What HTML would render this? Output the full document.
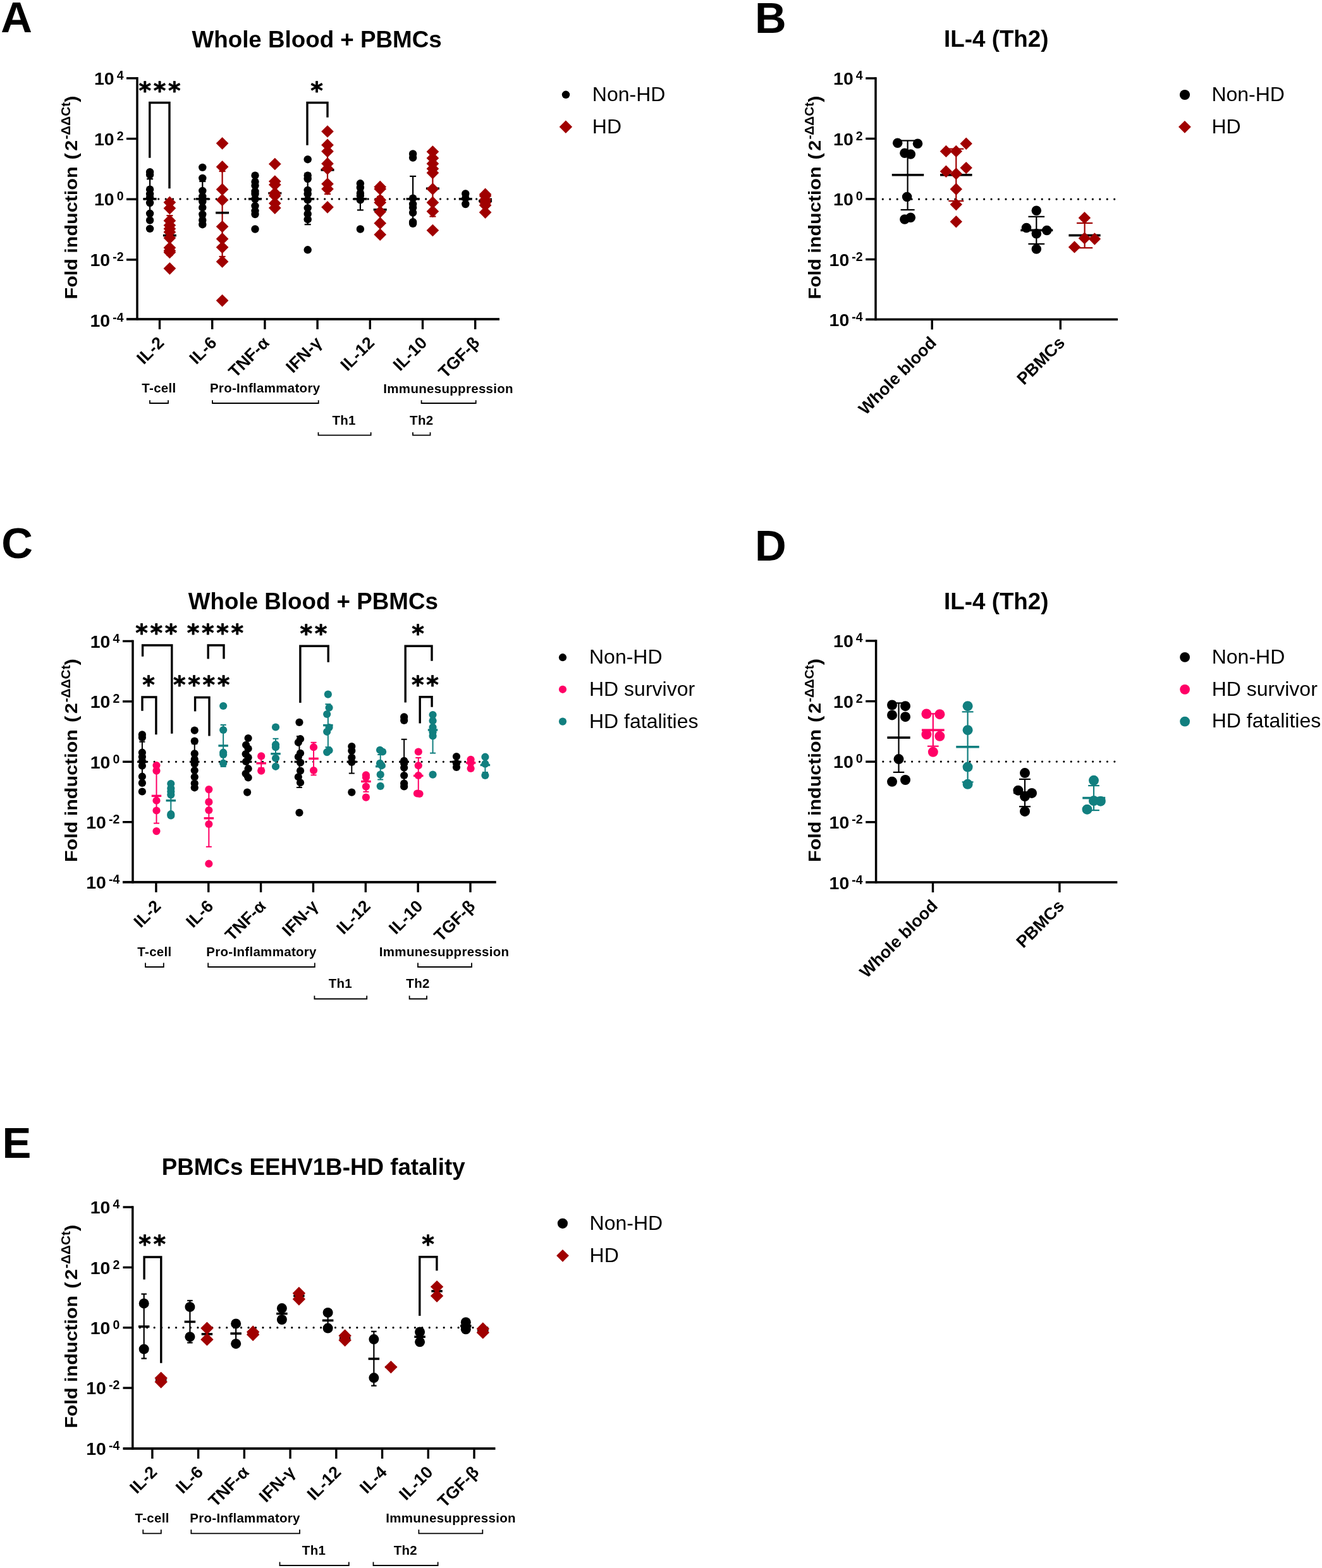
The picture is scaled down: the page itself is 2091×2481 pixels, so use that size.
<!DOCTYPE html>
<html><head><meta charset="utf-8"><title>Figure</title>
<style>html,body{margin:0;padding:0;background:#fff;} svg{display:block;}</style></head>
<body><svg width="2091" height="2481" viewBox="0 0 2091 2481">
<rect width="2091" height="2481" fill="#fff"/>
<text x="1.2" y="51.4" font-family="'Liberation Sans', Arial, sans-serif" font-size="68.8" font-weight="bold" text-anchor="start">A</text>
<text x="501.1" y="74.6" font-family="'Liberation Sans', Arial, sans-serif" font-size="36.75" font-weight="bold" text-anchor="middle">Whole Blood + PBMCs</text>
<line x1="227.9" y1="314.9" x2="776.8" y2="314.9" stroke="#000" stroke-width="3.2" stroke-linecap="round" stroke-dasharray="0 11.43"/>
<rect x="215.25" y="122.05" width="3.5" height="384.85" fill="#000000"/>
<rect x="200" y="122.1" width="17" height="3.4" fill="#000000"/>
<text x="195.5" y="134" font-family="'Liberation Sans', Arial, sans-serif" font-size="28.5" font-weight="bold" text-anchor="end">10<tspan dx="4" dy="-8" font-size="19.5">4</tspan></text>
<rect x="200" y="217.8" width="17" height="3.4" fill="#000000"/>
<text x="195.5" y="229.7" font-family="'Liberation Sans', Arial, sans-serif" font-size="28.5" font-weight="bold" text-anchor="end">10<tspan dx="4" dy="-8" font-size="19.5">2</tspan></text>
<rect x="200" y="313.5" width="17" height="3.4" fill="#000000"/>
<text x="195.5" y="325.4" font-family="'Liberation Sans', Arial, sans-serif" font-size="28.5" font-weight="bold" text-anchor="end">10<tspan dx="4" dy="-8" font-size="19.5">0</tspan></text>
<rect x="200" y="409.2" width="17" height="3.4" fill="#000000"/>
<text x="195.5" y="421.1" font-family="'Liberation Sans', Arial, sans-serif" font-size="28.5" font-weight="bold" text-anchor="end">10<tspan dx="4" dy="-8" font-size="19.5">-2</tspan></text>
<text x="195.5" y="516.8" font-family="'Liberation Sans', Arial, sans-serif" font-size="28.5" font-weight="bold" text-anchor="end">10<tspan dx="4" dy="-8" font-size="19.5">-4</tspan></text>
<rect x="200" y="503.1" width="590" height="3.8" fill="#000000"/>
<rect x="250.8" y="505" width="3.4" height="16" fill="#000000"/>
<rect x="334" y="505" width="3.4" height="16" fill="#000000"/>
<rect x="417.2" y="505" width="3.4" height="16" fill="#000000"/>
<rect x="500.4" y="505" width="3.4" height="16" fill="#000000"/>
<rect x="583.6" y="505" width="3.4" height="16" fill="#000000"/>
<rect x="666.8" y="505" width="3.4" height="16" fill="#000000"/>
<rect x="750" y="505" width="3.4" height="16" fill="#000000"/>
<text transform="translate(261,544) rotate(-45)" font-family="'Liberation Sans', Arial, sans-serif" font-size="26.8" font-weight="bold" text-anchor="end">IL-2</text>
<text transform="translate(344.2,544) rotate(-45)" font-family="'Liberation Sans', Arial, sans-serif" font-size="26.8" font-weight="bold" text-anchor="end">IL-6</text>
<text transform="translate(427.4,544) rotate(-45)" font-family="'Liberation Sans', Arial, sans-serif" font-size="26.8" font-weight="bold" text-anchor="end">TNF-α</text>
<text transform="translate(510.6,544) rotate(-45)" font-family="'Liberation Sans', Arial, sans-serif" font-size="26.8" font-weight="bold" text-anchor="end">IFN-γ</text>
<text transform="translate(593.8,544) rotate(-45)" font-family="'Liberation Sans', Arial, sans-serif" font-size="26.8" font-weight="bold" text-anchor="end">IL-12</text>
<text transform="translate(677,544) rotate(-45)" font-family="'Liberation Sans', Arial, sans-serif" font-size="26.8" font-weight="bold" text-anchor="end">IL-10</text>
<text transform="translate(760.2,544) rotate(-45)" font-family="'Liberation Sans', Arial, sans-serif" font-size="26.8" font-weight="bold" text-anchor="end">TGF-β</text>
<text transform="translate(122.3,473.5) rotate(-90) scale(1.13,1)" font-family="'Liberation Sans', Arial, sans-serif" font-size="27" font-weight="bold">Fold induction <tspan dx="2.2">(</tspan><tspan dx="3.2">2</tspan></text>
<text transform="translate(110.9,220.6) rotate(-90)" font-family="'Liberation Sans', Arial, sans-serif" font-size="20.8" font-weight="bold">-ΔΔCt</text>
<text transform="translate(122.3,161.8) rotate(-90) scale(1.13,1)" font-family="'Liberation Sans', Arial, sans-serif" font-size="27" font-weight="bold">)</text>
<rect x="236" y="283.2" width="2.2" height="62.8" fill="#000000"/>
<rect x="232.1" y="282.1" width="10" height="2.2" fill="#000000"/>
<rect x="232.1" y="344.9" width="10" height="2.2" fill="#000000"/>
<rect x="226.6" y="313" width="21" height="3.6" fill="#000000"/>
<circle cx="237.1" cy="272.2" r="6.2" fill="#000000"/>
<circle cx="237.1" cy="276.5" r="6.2" fill="#000000"/>
<circle cx="237.1" cy="299.7" r="6.2" fill="#000000"/>
<circle cx="237.1" cy="307" r="6.2" fill="#000000"/>
<circle cx="237.1" cy="312.4" r="6.2" fill="#000000"/>
<circle cx="237.1" cy="321" r="6.2" fill="#000000"/>
<circle cx="237.1" cy="337.8" r="6.2" fill="#000000"/>
<circle cx="237.1" cy="348.5" r="6.2" fill="#000000"/>
<circle cx="237.1" cy="361.9" r="6.2" fill="#000000"/>
<rect x="267.3" y="341.1" width="2.2" height="62.9" fill="#A00000"/>
<rect x="263.4" y="340" width="10" height="2.2" fill="#A00000"/>
<rect x="263.4" y="402.9" width="10" height="2.2" fill="#A00000"/>
<rect x="257.9" y="370.8" width="21" height="3.6" fill="#000000"/>
<path d="M268.4 310.45L278.25 320.3L268.4 330.15L258.55 320.3Z" fill="#A00000"/>
<path d="M268.4 319.75L278.25 329.6L268.4 339.45L258.55 329.6Z" fill="#A00000"/>
<path d="M268.4 339.35L278.25 349.2L268.4 359.05L258.55 349.2Z" fill="#A00000"/>
<path d="M268.4 346.65L278.25 356.5L268.4 366.35L258.55 356.5Z" fill="#A00000"/>
<path d="M268.4 352.05L278.25 361.9L268.4 371.75L258.55 361.9Z" fill="#A00000"/>
<path d="M268.4 357.35L278.25 367.2L268.4 377.05L258.55 367.2Z" fill="#A00000"/>
<path d="M268.4 366.75L278.25 376.6L268.4 386.45L258.55 376.6Z" fill="#A00000"/>
<path d="M268.4 382.15L278.25 392L268.4 401.85L258.55 392Z" fill="#A00000"/>
<path d="M268.4 386.85L278.25 396.7L268.4 406.55L258.55 396.7Z" fill="#A00000"/>
<path d="M268.4 389.45L278.25 399.3L268.4 409.15L258.55 399.3Z" fill="#A00000"/>
<path d="M268.4 414.95L278.25 424.8L268.4 434.65L258.55 424.8Z" fill="#A00000"/>
<rect x="319.2" y="287" width="2.2" height="56" fill="#000000"/>
<rect x="315.3" y="285.9" width="10" height="2.2" fill="#000000"/>
<rect x="315.3" y="341.9" width="10" height="2.2" fill="#000000"/>
<rect x="309.8" y="313" width="21" height="3.6" fill="#000000"/>
<circle cx="320.3" cy="264.9" r="6.2" fill="#000000"/>
<circle cx="320.3" cy="281.9" r="6.2" fill="#000000"/>
<circle cx="320.3" cy="301.9" r="6.2" fill="#000000"/>
<circle cx="320.3" cy="311" r="6.2" fill="#000000"/>
<circle cx="320.3" cy="319" r="6.2" fill="#000000"/>
<circle cx="320.3" cy="328.4" r="6.2" fill="#000000"/>
<circle cx="320.3" cy="339.1" r="6.2" fill="#000000"/>
<circle cx="320.3" cy="348.5" r="6.2" fill="#000000"/>
<circle cx="320.3" cy="355.2" r="6.2" fill="#000000"/>
<rect x="350.5" y="271" width="2.2" height="135" fill="#A00000"/>
<rect x="346.6" y="269.9" width="10" height="2.2" fill="#A00000"/>
<rect x="346.6" y="404.9" width="10" height="2.2" fill="#A00000"/>
<rect x="341.1" y="334.9" width="21" height="3.6" fill="#000000"/>
<path d="M351.6 216.95L361.45 226.8L351.6 236.65L341.75 226.8Z" fill="#A00000"/>
<path d="M351.6 254.05L361.45 263.9L351.6 273.75L341.75 263.9Z" fill="#A00000"/>
<path d="M351.6 289.85L361.45 299.7L351.6 309.55L341.75 299.7Z" fill="#A00000"/>
<path d="M351.6 306.55L361.45 316.4L351.6 326.25L341.75 316.4Z" fill="#A00000"/>
<path d="M351.6 348.65L361.45 358.5L351.6 368.35L341.75 358.5Z" fill="#A00000"/>
<path d="M351.6 368.05L361.45 377.9L351.6 387.75L341.75 377.9Z" fill="#A00000"/>
<path d="M351.6 381.45L361.45 391.3L351.6 401.15L341.75 391.3Z" fill="#A00000"/>
<path d="M351.6 404.15L361.45 414L351.6 423.85L341.75 414Z" fill="#A00000"/>
<path d="M351.6 465.75L361.45 475.6L351.6 485.45L341.75 475.6Z" fill="#A00000"/>
<rect x="402.4" y="292" width="2.2" height="45" fill="#000000"/>
<rect x="398.5" y="290.9" width="10" height="2.2" fill="#000000"/>
<rect x="398.5" y="335.9" width="10" height="2.2" fill="#000000"/>
<rect x="393" y="313" width="21" height="3.6" fill="#000000"/>
<circle cx="403.5" cy="277.6" r="6.2" fill="#000000"/>
<circle cx="403.5" cy="287.6" r="6.2" fill="#000000"/>
<circle cx="403.5" cy="293.6" r="6.2" fill="#000000"/>
<circle cx="403.5" cy="303" r="6.2" fill="#000000"/>
<circle cx="403.5" cy="307" r="6.2" fill="#000000"/>
<circle cx="403.5" cy="315" r="6.2" fill="#000000"/>
<circle cx="403.5" cy="325.8" r="6.2" fill="#000000"/>
<circle cx="403.5" cy="333.8" r="6.2" fill="#000000"/>
<circle cx="403.5" cy="339.1" r="6.2" fill="#000000"/>
<circle cx="403.5" cy="362.5" r="6.2" fill="#000000"/>
<rect x="433.7" y="287" width="2.2" height="37" fill="#A00000"/>
<rect x="429.8" y="285.9" width="10" height="2.2" fill="#A00000"/>
<rect x="429.8" y="322.9" width="10" height="2.2" fill="#A00000"/>
<rect x="424.3" y="303.9" width="21" height="3.6" fill="#000000"/>
<path d="M434.8 249.65L444.65 259.5L434.8 269.35L424.95 259.5Z" fill="#A00000"/>
<path d="M434.8 277.15L444.65 287L434.8 296.85L424.95 287Z" fill="#A00000"/>
<path d="M434.8 282.45L444.65 292.3L434.8 302.15L424.95 292.3Z" fill="#A00000"/>
<path d="M434.8 295.85L444.65 305.7L434.8 315.55L424.95 305.7Z" fill="#A00000"/>
<path d="M434.8 299.85L444.65 309.7L434.8 319.55L424.95 309.7Z" fill="#A00000"/>
<path d="M434.8 311.85L444.65 321.7L434.8 331.55L424.95 321.7Z" fill="#A00000"/>
<path d="M434.8 319.25L444.65 329.1L434.8 338.95L424.95 329.1Z" fill="#A00000"/>
<rect x="485.6" y="274.2" width="2.2" height="81" fill="#000000"/>
<rect x="481.7" y="273.1" width="10" height="2.2" fill="#000000"/>
<rect x="481.7" y="354.1" width="10" height="2.2" fill="#000000"/>
<rect x="476.2" y="313" width="21" height="3.6" fill="#000000"/>
<circle cx="486.7" cy="252.2" r="6.2" fill="#000000"/>
<circle cx="486.7" cy="277.6" r="6.2" fill="#000000"/>
<circle cx="486.7" cy="283" r="6.2" fill="#000000"/>
<circle cx="486.7" cy="301" r="6.2" fill="#000000"/>
<circle cx="486.7" cy="307" r="6.2" fill="#000000"/>
<circle cx="486.7" cy="316.4" r="6.2" fill="#000000"/>
<circle cx="486.7" cy="329.1" r="6.2" fill="#000000"/>
<circle cx="486.7" cy="338.5" r="6.2" fill="#000000"/>
<circle cx="486.7" cy="347.2" r="6.2" fill="#000000"/>
<circle cx="486.7" cy="395.3" r="6.2" fill="#000000"/>
<rect x="516.9" y="231" width="2.2" height="76" fill="#A00000"/>
<rect x="513" y="229.9" width="10" height="2.2" fill="#A00000"/>
<rect x="513" y="305.9" width="10" height="2.2" fill="#A00000"/>
<rect x="507.5" y="267.1" width="21" height="3.6" fill="#000000"/>
<path d="M518 198.15L527.85 208L518 217.85L508.15 208Z" fill="#A00000"/>
<path d="M518 219.55L527.85 229.4L518 239.25L508.15 229.4Z" fill="#A00000"/>
<path d="M518 229.65L527.85 239.5L518 249.35L508.15 239.5Z" fill="#A00000"/>
<path d="M518 249.05L527.85 258.9L518 268.75L508.15 258.9Z" fill="#A00000"/>
<path d="M518 257.05L527.85 266.9L518 276.75L508.15 266.9Z" fill="#A00000"/>
<path d="M518 281.15L527.85 291L518 300.85L508.15 291Z" fill="#A00000"/>
<path d="M518 289.15L527.85 299L518 308.85L508.15 299Z" fill="#A00000"/>
<path d="M518 317.95L527.85 327.8L518 337.65L508.15 327.8Z" fill="#A00000"/>
<rect x="568.8" y="297" width="2.2" height="35.4" fill="#000000"/>
<rect x="564.9" y="295.9" width="10" height="2.2" fill="#000000"/>
<rect x="564.9" y="331.3" width="10" height="2.2" fill="#000000"/>
<rect x="559.4" y="313" width="21" height="3.6" fill="#000000"/>
<circle cx="569.9" cy="290.3" r="6.2" fill="#000000"/>
<circle cx="569.9" cy="297" r="6.2" fill="#000000"/>
<circle cx="569.9" cy="305.7" r="6.2" fill="#000000"/>
<circle cx="569.9" cy="309.7" r="6.2" fill="#000000"/>
<circle cx="569.9" cy="316.4" r="6.2" fill="#000000"/>
<circle cx="569.9" cy="362.5" r="6.2" fill="#000000"/>
<rect x="600.1" y="311" width="2.2" height="41" fill="#A00000"/>
<rect x="596.2" y="309.9" width="10" height="2.2" fill="#A00000"/>
<rect x="596.2" y="350.9" width="10" height="2.2" fill="#A00000"/>
<rect x="590.7" y="330" width="21" height="3.6" fill="#000000"/>
<path d="M601.2 285.85L611.05 295.7L601.2 305.55L591.35 295.7Z" fill="#A00000"/>
<path d="M601.2 289.15L611.05 299L601.2 308.85L591.35 299Z" fill="#A00000"/>
<path d="M601.2 306.55L611.05 316.4L601.2 326.25L591.35 316.4Z" fill="#A00000"/>
<path d="M601.2 310.55L611.05 320.4L601.2 330.25L591.35 320.4Z" fill="#A00000"/>
<path d="M601.2 325.25L611.05 335.1L601.2 344.95L591.35 335.1Z" fill="#A00000"/>
<path d="M601.2 343.35L611.05 353.2L601.2 363.05L591.35 353.2Z" fill="#A00000"/>
<path d="M601.2 361.35L611.05 371.2L601.2 381.05L591.35 371.2Z" fill="#A00000"/>
<rect x="652" y="278.9" width="2.2" height="71.1" fill="#000000"/>
<rect x="648.1" y="277.8" width="10" height="2.2" fill="#000000"/>
<rect x="648.1" y="348.9" width="10" height="2.2" fill="#000000"/>
<rect x="642.6" y="313" width="21" height="3.6" fill="#000000"/>
<circle cx="653.1" cy="243.5" r="6.2" fill="#000000"/>
<circle cx="653.1" cy="249.5" r="6.2" fill="#000000"/>
<circle cx="653.1" cy="313.7" r="6.2" fill="#000000"/>
<circle cx="653.1" cy="323" r="6.2" fill="#000000"/>
<circle cx="653.1" cy="328.4" r="6.2" fill="#000000"/>
<circle cx="653.1" cy="336.5" r="6.2" fill="#000000"/>
<circle cx="653.1" cy="351.2" r="6.2" fill="#000000"/>
<circle cx="653.1" cy="353.8" r="6.2" fill="#000000"/>
<rect x="683.3" y="254" width="2.2" height="88.5" fill="#A00000"/>
<rect x="679.4" y="252.9" width="10" height="2.2" fill="#A00000"/>
<rect x="679.4" y="341.4" width="10" height="2.2" fill="#A00000"/>
<rect x="673.9" y="296.5" width="21" height="3.6" fill="#000000"/>
<path d="M684.4 230.25L694.25 240.1L684.4 249.95L674.55 240.1Z" fill="#A00000"/>
<path d="M684.4 240.35L694.25 250.2L684.4 260.05L674.55 250.2Z" fill="#A00000"/>
<path d="M684.4 249.05L694.25 258.9L684.4 268.75L674.55 258.9Z" fill="#A00000"/>
<path d="M684.4 257.05L694.25 266.9L684.4 276.75L674.55 266.9Z" fill="#A00000"/>
<path d="M684.4 263.75L694.25 273.6L684.4 283.45L674.55 273.6Z" fill="#A00000"/>
<path d="M684.4 289.15L694.25 299L684.4 308.85L674.55 299Z" fill="#A00000"/>
<path d="M684.4 310.55L694.25 320.4L684.4 330.25L674.55 320.4Z" fill="#A00000"/>
<path d="M684.4 324.55L694.25 334.4L684.4 344.25L674.55 334.4Z" fill="#A00000"/>
<path d="M684.4 354.65L694.25 364.5L684.4 374.35L674.55 364.5Z" fill="#A00000"/>
<rect x="735.2" y="310" width="2.2" height="10" fill="#000000"/>
<rect x="731.3" y="308.9" width="10" height="2.2" fill="#000000"/>
<rect x="731.3" y="318.9" width="10" height="2.2" fill="#000000"/>
<rect x="725.8" y="313" width="21" height="3.6" fill="#000000"/>
<circle cx="736.3" cy="306.4" r="6.2" fill="#000000"/>
<circle cx="736.3" cy="313.6" r="6.2" fill="#000000"/>
<circle cx="736.3" cy="323" r="6.2" fill="#000000"/>
<rect x="766.5" y="311" width="2.2" height="14" fill="#A00000"/>
<rect x="762.6" y="309.9" width="10" height="2.2" fill="#A00000"/>
<rect x="762.6" y="323.9" width="10" height="2.2" fill="#A00000"/>
<rect x="757.1" y="316.2" width="21" height="3.6" fill="#000000"/>
<path d="M767.6 297.55L777.45 307.4L767.6 317.25L757.75 307.4Z" fill="#A00000"/>
<path d="M767.6 300.05L777.45 309.9L767.6 319.75L757.75 309.9Z" fill="#A00000"/>
<path d="M767.6 306.25L777.45 316.1L767.6 325.95L757.75 316.1Z" fill="#A00000"/>
<path d="M767.6 310.65L777.45 320.5L767.6 330.35L757.75 320.5Z" fill="#A00000"/>
<path d="M767.6 314.95L777.45 324.8L767.6 334.65L757.75 324.8Z" fill="#A00000"/>
<path d="M767.6 326.25L777.45 336.1L767.6 345.95L757.75 336.1Z" fill="#A00000"/>
<path d="M236.8 249.7V162.5H268V298.3" fill="none" stroke="#000" stroke-width="3.4" stroke-linejoin="miter" stroke-linecap="butt"/>
<text x="254.4" y="156.2" font-family="'DejaVu Sans', 'Liberation Sans', sans-serif" font-size="37.5" font-weight="bold" text-anchor="middle" letter-spacing="3.65" stroke="#000" stroke-width="0.8" stroke-linejoin="round">***</text>
<path d="M486 229.7V162.5H518V185.7" fill="none" stroke="#000" stroke-width="3.4" stroke-linejoin="miter" stroke-linecap="butt"/>
<text x="502.8" y="155.9" font-family="'DejaVu Sans', 'Liberation Sans', sans-serif" font-size="37.5" font-weight="bold" text-anchor="middle" letter-spacing="3.65" stroke="#000" stroke-width="0.8" stroke-linejoin="round">*</text>
<text x="251.45" y="621" font-family="'Liberation Sans', Arial, sans-serif" font-size="20.5" font-weight="bold" text-anchor="middle" letter-spacing="0.3">T-cell</text>
<path d="M237 633.2V638H266V633.2" fill="none" stroke="#000" stroke-width="1.8"/>
<text x="419.15" y="621" font-family="'Liberation Sans', Arial, sans-serif" font-size="20.5" font-weight="bold" text-anchor="middle" letter-spacing="0.3">Pro-Inflammatory</text>
<path d="M336 633.2V638H503.7V633.2" fill="none" stroke="#000" stroke-width="1.8"/>
<text x="709.15" y="621.7" font-family="'Liberation Sans', Arial, sans-serif" font-size="20.5" font-weight="bold" text-anchor="middle" letter-spacing="0.3">Immunesuppression</text>
<path d="M666.6 633.2V638H752.7V633.2" fill="none" stroke="#000" stroke-width="1.8"/>
<text x="544.15" y="671.8" font-family="'Liberation Sans', Arial, sans-serif" font-size="20.5" font-weight="bold" text-anchor="middle" letter-spacing="0.3">Th1</text>
<path d="M503.5 684V688.6H586.6V684" fill="none" stroke="#000" stroke-width="1.8"/>
<text x="666.75" y="671.8" font-family="'Liberation Sans', Arial, sans-serif" font-size="20.5" font-weight="bold" text-anchor="middle" letter-spacing="0.3">Th2</text>
<path d="M653 684V688.6H680.5V684" fill="none" stroke="#000" stroke-width="1.8"/>
<circle cx="895" cy="149.8" r="6.25" fill="#000000"/>
<text x="936.8" y="159.9" font-family="'Liberation Sans', Arial, sans-serif" font-size="32" font-weight="normal" text-anchor="start">Non-HD</text>
<path d="M894.9 190.6L905.1 200.8L894.9 211L884.7 200.8Z" fill="#A00000"/>
<text x="936.8" y="210.7" font-family="'Liberation Sans', Arial, sans-serif" font-size="32" font-weight="normal" text-anchor="start">HD</text>
<text x="1194" y="52.2" font-family="'Liberation Sans', Arial, sans-serif" font-size="68.8" font-weight="bold" text-anchor="start">B</text>
<text x="1575.8" y="74.3" font-family="'Liberation Sans', Arial, sans-serif" font-size="36.75" font-weight="bold" text-anchor="middle">IL-4 (Th2)</text>
<line x1="1396.3" y1="315.2" x2="1762.8" y2="315.2" stroke="#000" stroke-width="3.2" stroke-linecap="round" stroke-dasharray="0 11.45"/>
<rect x="1383.25" y="122.15" width="3.5" height="385.05" fill="#000000"/>
<rect x="1369.2" y="122.2" width="15.8" height="3.4" fill="#000000"/>
<text x="1364.6" y="134.1" font-family="'Liberation Sans', Arial, sans-serif" font-size="28.5" font-weight="bold" text-anchor="end">10<tspan dx="4" dy="-8" font-size="19.5">4</tspan></text>
<rect x="1369.2" y="217.7" width="15.8" height="3.4" fill="#000000"/>
<text x="1364.6" y="229.6" font-family="'Liberation Sans', Arial, sans-serif" font-size="28.5" font-weight="bold" text-anchor="end">10<tspan dx="4" dy="-8" font-size="19.5">2</tspan></text>
<rect x="1369.2" y="313.2" width="15.8" height="3.4" fill="#000000"/>
<text x="1364.6" y="325.1" font-family="'Liberation Sans', Arial, sans-serif" font-size="28.5" font-weight="bold" text-anchor="end">10<tspan dx="4" dy="-8" font-size="19.5">0</tspan></text>
<rect x="1369.2" y="408.7" width="15.8" height="3.4" fill="#000000"/>
<text x="1364.6" y="420.6" font-family="'Liberation Sans', Arial, sans-serif" font-size="28.5" font-weight="bold" text-anchor="end">10<tspan dx="4" dy="-8" font-size="19.5">-2</tspan></text>
<text x="1364.6" y="516.1" font-family="'Liberation Sans', Arial, sans-serif" font-size="28.5" font-weight="bold" text-anchor="end">10<tspan dx="4" dy="-8" font-size="19.5">-4</tspan></text>
<rect x="1369.2" y="503.6" width="398.8" height="3.6" fill="#000000"/>
<rect x="1472.5" y="505.4" width="3.4" height="16" fill="#000000"/>
<rect x="1675.6" y="505.4" width="3.4" height="16" fill="#000000"/>
<text transform="translate(1482.7,544) rotate(-45)" font-family="'Liberation Sans', Arial, sans-serif" font-size="26.8" font-weight="bold" text-anchor="end">Whole blood</text>
<text transform="translate(1685.8,544) rotate(-45)" font-family="'Liberation Sans', Arial, sans-serif" font-size="26.8" font-weight="bold" text-anchor="end">PBMCs</text>
<text transform="translate(1298.2,473.5) rotate(-90) scale(1.13,1)" font-family="'Liberation Sans', Arial, sans-serif" font-size="27" font-weight="bold">Fold induction <tspan dx="2.2">(</tspan><tspan dx="3.2">2</tspan></text>
<text transform="translate(1286.8,220.6) rotate(-90)" font-family="'Liberation Sans', Arial, sans-serif" font-size="20.8" font-weight="bold">-ΔΔCt</text>
<text transform="translate(1298.2,161.8) rotate(-90) scale(1.13,1)" font-family="'Liberation Sans', Arial, sans-serif" font-size="27" font-weight="bold">)</text>
<rect x="1434.5" y="222.5" width="2.2" height="109.5" fill="#000000"/>
<rect x="1424.6" y="221.4" width="22" height="2.2" fill="#000000"/>
<rect x="1424.6" y="330.9" width="22" height="2.2" fill="#000000"/>
<rect x="1410.75" y="275" width="50.5" height="3.6" fill="#000000"/>
<circle cx="1419.7" cy="226.3" r="7.75" fill="#000000"/>
<circle cx="1451.5" cy="227.2" r="7.75" fill="#000000"/>
<circle cx="1430.9" cy="242.2" r="7.75" fill="#000000"/>
<circle cx="1440.3" cy="244.1" r="7.75" fill="#000000"/>
<circle cx="1434.6" cy="311.4" r="7.75" fill="#000000"/>
<circle cx="1430.9" cy="347" r="7.75" fill="#000000"/>
<circle cx="1440.3" cy="344.2" r="7.75" fill="#000000"/>
<rect x="1511.2" y="235.6" width="2.2" height="82.4" fill="#A00000"/>
<rect x="1500.3" y="234.5" width="24" height="2.2" fill="#A00000"/>
<rect x="1500.3" y="316.9" width="24" height="2.2" fill="#A00000"/>
<rect x="1487.05" y="275" width="50.5" height="3.6" fill="#000000"/>
<path d="M1496.4 229.7L1506.1 239.4L1496.4 249.1L1486.7 239.4Z" fill="#A00000"/>
<path d="M1512.3 229.7L1522 239.4L1512.3 249.1L1502.6 239.4Z" fill="#A00000"/>
<path d="M1528.2 217.5L1537.9 227.2L1528.2 236.9L1518.5 227.2Z" fill="#A00000"/>
<path d="M1496.4 261.5L1506.1 271.2L1496.4 280.9L1486.7 271.2Z" fill="#A00000"/>
<path d="M1512.3 265.2L1522 274.9L1512.3 284.6L1502.6 274.9Z" fill="#A00000"/>
<path d="M1528.2 255.9L1537.9 265.6L1528.2 275.3L1518.5 265.6Z" fill="#A00000"/>
<path d="M1512.3 289.6L1522 299.3L1512.3 309L1502.6 299.3Z" fill="#A00000"/>
<path d="M1512.3 313.9L1522 323.6L1512.3 333.3L1502.6 323.6Z" fill="#A00000"/>
<path d="M1512.3 341L1522 350.7L1512.3 360.4L1502.6 350.7Z" fill="#A00000"/>
<rect x="1638.2" y="342.8" width="2.2" height="43.2" fill="#000000"/>
<rect x="1626.45" y="341.7" width="25.7" height="2.2" fill="#000000"/>
<rect x="1626.45" y="384.9" width="25.7" height="2.2" fill="#000000"/>
<rect x="1614.3" y="362.5" width="51" height="3.6" fill="#000000"/>
<circle cx="1639.3" cy="333.2" r="7.75" fill="#000000"/>
<circle cx="1623.5" cy="360.6" r="7.75" fill="#000000"/>
<circle cx="1655.8" cy="364.5" r="7.75" fill="#000000"/>
<circle cx="1639.3" cy="369.8" r="7.75" fill="#000000"/>
<circle cx="1639.3" cy="393.9" r="7.75" fill="#000000"/>
<rect x="1714.5" y="353" width="2.2" height="39.2" fill="#A00000"/>
<rect x="1703" y="351.9" width="25.2" height="2.2" fill="#A00000"/>
<rect x="1703" y="391.1" width="25.2" height="2.2" fill="#A00000"/>
<rect x="1690.4" y="370.6" width="50.2" height="3.6" fill="#000000"/>
<path d="M1715.4 335L1725.1 344.7L1715.4 354.4L1705.7 344.7Z" fill="#A00000"/>
<path d="M1715.4 367.2L1725.1 376.9L1715.4 386.6L1705.7 376.9Z" fill="#A00000"/>
<path d="M1731.4 368.3L1741.1 378L1731.4 387.7L1721.7 378Z" fill="#A00000"/>
<path d="M1699.5 381.2L1709.2 390.9L1699.5 400.6L1689.8 390.9Z" fill="#A00000"/>
<circle cx="1874" cy="150" r="8.1" fill="#000000"/>
<text x="1916.4" y="159.9" font-family="'Liberation Sans', Arial, sans-serif" font-size="32" font-weight="normal" text-anchor="start">Non-HD</text>
<path d="M1873.9 190.9L1883.8 200.8L1873.9 210.7L1864 200.8Z" fill="#A00000"/>
<text x="1916.4" y="210.7" font-family="'Liberation Sans', Arial, sans-serif" font-size="32" font-weight="normal" text-anchor="start">HD</text>
<text x="2.3" y="883" font-family="'Liberation Sans', Arial, sans-serif" font-size="68.8" font-weight="bold" text-anchor="start">C</text>
<text x="495.4" y="963.9" font-family="'Liberation Sans', Arial, sans-serif" font-size="36.75" font-weight="bold" text-anchor="middle">Whole Blood + PBMCs</text>
<line x1="221.3" y1="1205.3" x2="770.2" y2="1205.3" stroke="#000" stroke-width="3.2" stroke-linecap="round" stroke-dasharray="0 11.43"/>
<rect x="208.25" y="1012.75" width="3.5" height="384.95" fill="#000000"/>
<rect x="194" y="1012.8" width="16" height="3.4" fill="#000000"/>
<text x="189.3" y="1024.7" font-family="'Liberation Sans', Arial, sans-serif" font-size="28.5" font-weight="bold" text-anchor="end">10<tspan dx="4" dy="-8" font-size="19.5">4</tspan></text>
<rect x="194" y="1108.2" width="16" height="3.4" fill="#000000"/>
<text x="189.3" y="1120.1" font-family="'Liberation Sans', Arial, sans-serif" font-size="28.5" font-weight="bold" text-anchor="end">10<tspan dx="4" dy="-8" font-size="19.5">2</tspan></text>
<rect x="194" y="1203.6" width="16" height="3.4" fill="#000000"/>
<text x="189.3" y="1215.5" font-family="'Liberation Sans', Arial, sans-serif" font-size="28.5" font-weight="bold" text-anchor="end">10<tspan dx="4" dy="-8" font-size="19.5">0</tspan></text>
<rect x="194" y="1299" width="16" height="3.4" fill="#000000"/>
<text x="189.3" y="1310.9" font-family="'Liberation Sans', Arial, sans-serif" font-size="28.5" font-weight="bold" text-anchor="end">10<tspan dx="4" dy="-8" font-size="19.5">-2</tspan></text>
<text x="189.3" y="1406.3" font-family="'Liberation Sans', Arial, sans-serif" font-size="28.5" font-weight="bold" text-anchor="end">10<tspan dx="4" dy="-8" font-size="19.5">-4</tspan></text>
<rect x="194" y="1393.9" width="590.7" height="3.8" fill="#000000"/>
<rect x="245.2" y="1395.8" width="3.4" height="16" fill="#000000"/>
<rect x="328.05" y="1395.8" width="3.4" height="16" fill="#000000"/>
<rect x="410.9" y="1395.8" width="3.4" height="16" fill="#000000"/>
<rect x="493.75" y="1395.8" width="3.4" height="16" fill="#000000"/>
<rect x="576.6" y="1395.8" width="3.4" height="16" fill="#000000"/>
<rect x="659.45" y="1395.8" width="3.4" height="16" fill="#000000"/>
<rect x="742.3" y="1395.8" width="3.4" height="16" fill="#000000"/>
<text transform="translate(256.1,1435.5) rotate(-45)" font-family="'Liberation Sans', Arial, sans-serif" font-size="26.8" font-weight="bold" text-anchor="end">IL-2</text>
<text transform="translate(338.95,1435.5) rotate(-45)" font-family="'Liberation Sans', Arial, sans-serif" font-size="26.8" font-weight="bold" text-anchor="end">IL-6</text>
<text transform="translate(421.8,1435.5) rotate(-45)" font-family="'Liberation Sans', Arial, sans-serif" font-size="26.8" font-weight="bold" text-anchor="end">TNF-α</text>
<text transform="translate(504.65,1435.5) rotate(-45)" font-family="'Liberation Sans', Arial, sans-serif" font-size="26.8" font-weight="bold" text-anchor="end">IFN-γ</text>
<text transform="translate(587.5,1435.5) rotate(-45)" font-family="'Liberation Sans', Arial, sans-serif" font-size="26.8" font-weight="bold" text-anchor="end">IL-12</text>
<text transform="translate(670.35,1435.5) rotate(-45)" font-family="'Liberation Sans', Arial, sans-serif" font-size="26.8" font-weight="bold" text-anchor="end">IL-10</text>
<text transform="translate(753.2,1435.5) rotate(-45)" font-family="'Liberation Sans', Arial, sans-serif" font-size="26.8" font-weight="bold" text-anchor="end">TGF-β</text>
<text transform="translate(122.3,1364.1) rotate(-90) scale(1.13,1)" font-family="'Liberation Sans', Arial, sans-serif" font-size="27" font-weight="bold">Fold induction <tspan dx="2.2">(</tspan><tspan dx="3.2">2</tspan></text>
<text transform="translate(110.9,1111.2) rotate(-90)" font-family="'Liberation Sans', Arial, sans-serif" font-size="20.8" font-weight="bold">-ΔΔCt</text>
<text transform="translate(122.3,1052.4) rotate(-90) scale(1.13,1)" font-family="'Liberation Sans', Arial, sans-serif" font-size="27" font-weight="bold">)</text>
<rect x="223.9" y="1173.7" width="2" height="63.3" fill="#000000"/>
<rect x="220.4" y="1172.7" width="9" height="2" fill="#000000"/>
<rect x="220.4" y="1236" width="9" height="2" fill="#000000"/>
<rect x="217.15" y="1203.7" width="15.5" height="3.4" fill="#000000"/>
<circle cx="224.9" cy="1162.4" r="6.1" fill="#000000"/>
<circle cx="224.9" cy="1166.9" r="6.1" fill="#000000"/>
<circle cx="224.9" cy="1190.7" r="6.1" fill="#000000"/>
<circle cx="224.9" cy="1197.5" r="6.1" fill="#000000"/>
<circle cx="224.9" cy="1204.3" r="6.1" fill="#000000"/>
<circle cx="224.9" cy="1211.7" r="6.1" fill="#000000"/>
<circle cx="224.9" cy="1228.7" r="6.1" fill="#000000"/>
<circle cx="224.9" cy="1238.9" r="6.1" fill="#000000"/>
<circle cx="224.9" cy="1252.5" r="6.1" fill="#000000"/>
<rect x="306.75" y="1177" width="2" height="56" fill="#000000"/>
<rect x="303.25" y="1176" width="9" height="2" fill="#000000"/>
<rect x="303.25" y="1232" width="9" height="2" fill="#000000"/>
<rect x="300" y="1203.7" width="15.5" height="3.4" fill="#000000"/>
<circle cx="307.75" cy="1155.6" r="6.1" fill="#000000"/>
<circle cx="307.75" cy="1172.6" r="6.1" fill="#000000"/>
<circle cx="307.75" cy="1192.4" r="6.1" fill="#000000"/>
<circle cx="307.75" cy="1201.5" r="6.1" fill="#000000"/>
<circle cx="307.75" cy="1208.8" r="6.1" fill="#000000"/>
<circle cx="307.75" cy="1219" r="6.1" fill="#000000"/>
<circle cx="307.75" cy="1229.3" r="6.1" fill="#000000"/>
<circle cx="307.75" cy="1239.5" r="6.1" fill="#000000"/>
<circle cx="307.75" cy="1246.3" r="6.1" fill="#000000"/>
<rect x="389.6" y="1180" width="2" height="50" fill="#000000"/>
<rect x="386.1" y="1179" width="9" height="2" fill="#000000"/>
<rect x="386.1" y="1229" width="9" height="2" fill="#000000"/>
<rect x="382.85" y="1203.7" width="15.5" height="3.4" fill="#000000"/>
<circle cx="392.6" cy="1168" r="6.1" fill="#000000"/>
<circle cx="389.1" cy="1178.8" r="6.1" fill="#000000"/>
<circle cx="392.6" cy="1184.5" r="6.1" fill="#000000"/>
<circle cx="388.6" cy="1193" r="6.1" fill="#000000"/>
<circle cx="392.6" cy="1198.6" r="6.1" fill="#000000"/>
<circle cx="389.1" cy="1205" r="6.1" fill="#000000"/>
<circle cx="392.6" cy="1216.2" r="6.1" fill="#000000"/>
<circle cx="388.6" cy="1224.1" r="6.1" fill="#000000"/>
<circle cx="392.6" cy="1230.4" r="6.1" fill="#000000"/>
<circle cx="391.1" cy="1253.6" r="6.1" fill="#000000"/>
<rect x="472.45" y="1165" width="2" height="81" fill="#000000"/>
<rect x="468.95" y="1164" width="9" height="2" fill="#000000"/>
<rect x="468.95" y="1245" width="9" height="2" fill="#000000"/>
<rect x="465.7" y="1203.7" width="15.5" height="3.4" fill="#000000"/>
<circle cx="473.45" cy="1142.9" r="6.1" fill="#000000"/>
<circle cx="475.05" cy="1169.2" r="6.1" fill="#000000"/>
<circle cx="471.85" cy="1174.8" r="6.1" fill="#000000"/>
<circle cx="475.05" cy="1191.8" r="6.1" fill="#000000"/>
<circle cx="471.85" cy="1197.5" r="6.1" fill="#000000"/>
<circle cx="475.05" cy="1206.6" r="6.1" fill="#000000"/>
<circle cx="475.05" cy="1219.6" r="6.1" fill="#000000"/>
<circle cx="471.85" cy="1229.3" r="6.1" fill="#000000"/>
<circle cx="475.05" cy="1238.3" r="6.1" fill="#000000"/>
<circle cx="473.45" cy="1285.9" r="6.1" fill="#000000"/>
<rect x="555.3" y="1187" width="2" height="36.6" fill="#000000"/>
<rect x="551.8" y="1186" width="9" height="2" fill="#000000"/>
<rect x="551.8" y="1222.6" width="9" height="2" fill="#000000"/>
<rect x="548.55" y="1203.7" width="15.5" height="3.4" fill="#000000"/>
<circle cx="556.3" cy="1181" r="6.1" fill="#000000"/>
<circle cx="556.3" cy="1187.9" r="6.1" fill="#000000"/>
<circle cx="556.3" cy="1198.6" r="6.1" fill="#000000"/>
<circle cx="556.3" cy="1206" r="6.1" fill="#000000"/>
<circle cx="556.3" cy="1253.6" r="6.1" fill="#000000"/>
<rect x="638.15" y="1169.8" width="2" height="68.2" fill="#000000"/>
<rect x="634.65" y="1168.8" width="9" height="2" fill="#000000"/>
<rect x="634.65" y="1237" width="9" height="2" fill="#000000"/>
<rect x="631.4" y="1203.7" width="15.5" height="3.4" fill="#000000"/>
<circle cx="639.15" cy="1134.4" r="6.1" fill="#000000"/>
<circle cx="639.15" cy="1139.9" r="6.1" fill="#000000"/>
<circle cx="639.15" cy="1203.8" r="6.1" fill="#000000"/>
<circle cx="639.15" cy="1208" r="6.1" fill="#000000"/>
<circle cx="639.15" cy="1214.7" r="6.1" fill="#000000"/>
<circle cx="639.15" cy="1227" r="6.1" fill="#000000"/>
<circle cx="639.15" cy="1239.5" r="6.1" fill="#000000"/>
<circle cx="639.15" cy="1244.5" r="6.1" fill="#000000"/>
<rect x="721" y="1200" width="2" height="11" fill="#000000"/>
<rect x="717.5" y="1199" width="9" height="2" fill="#000000"/>
<rect x="717.5" y="1210" width="9" height="2" fill="#000000"/>
<rect x="714.25" y="1203.7" width="15.5" height="3.4" fill="#000000"/>
<circle cx="722" cy="1197" r="6.1" fill="#000000"/>
<circle cx="722" cy="1207.9" r="6.1" fill="#000000"/>
<circle cx="722" cy="1214" r="6.1" fill="#000000"/>
<rect x="246.5" y="1222" width="2" height="80.6" fill="#FF0066"/>
<rect x="243" y="1221" width="9" height="2" fill="#FF0066"/>
<rect x="243" y="1301.6" width="9" height="2" fill="#FF0066"/>
<rect x="239.75" y="1257.6" width="15.5" height="3.4" fill="#FF0066"/>
<circle cx="247.5" cy="1211.1" r="6.1" fill="#FF0066"/>
<circle cx="247.5" cy="1219.6" r="6.1" fill="#FF0066"/>
<circle cx="247.5" cy="1266.7" r="6.1" fill="#FF0066"/>
<circle cx="247.5" cy="1282.5" r="6.1" fill="#FF0066"/>
<circle cx="247.5" cy="1315.1" r="6.1" fill="#FF0066"/>
<rect x="329.35" y="1249" width="2" height="90.8" fill="#FF0066"/>
<rect x="325.85" y="1248" width="9" height="2" fill="#FF0066"/>
<rect x="325.85" y="1338.8" width="9" height="2" fill="#FF0066"/>
<rect x="322.6" y="1293" width="15.5" height="3.4" fill="#FF0066"/>
<circle cx="330.35" cy="1249.1" r="6.1" fill="#FF0066"/>
<circle cx="330.35" cy="1268.9" r="6.1" fill="#FF0066"/>
<circle cx="330.35" cy="1282" r="6.1" fill="#FF0066"/>
<circle cx="330.35" cy="1304" r="6.1" fill="#FF0066"/>
<circle cx="330.35" cy="1366.7" r="6.1" fill="#FF0066"/>
<rect x="412.2" y="1200" width="2" height="15" fill="#FF0066"/>
<rect x="408.7" y="1199" width="9" height="2" fill="#FF0066"/>
<rect x="408.7" y="1214" width="9" height="2" fill="#FF0066"/>
<rect x="405.45" y="1206" width="15.5" height="3.4" fill="#FF0066"/>
<circle cx="413.2" cy="1196.4" r="6.1" fill="#FF0066"/>
<circle cx="413.2" cy="1219.6" r="6.1" fill="#FF0066"/>
<rect x="495.05" y="1174.8" width="2" height="51.6" fill="#FF0066"/>
<rect x="491.55" y="1173.8" width="9" height="2" fill="#FF0066"/>
<rect x="491.55" y="1225.4" width="9" height="2" fill="#FF0066"/>
<rect x="488.3" y="1198.6" width="15.5" height="3.4" fill="#FF0066"/>
<circle cx="496.05" cy="1182.2" r="6.1" fill="#FF0066"/>
<circle cx="496.05" cy="1219" r="6.1" fill="#FF0066"/>
<rect x="577.9" y="1224" width="2" height="28.8" fill="#FF0066"/>
<rect x="574.4" y="1223" width="9" height="2" fill="#FF0066"/>
<rect x="574.4" y="1251.8" width="9" height="2" fill="#FF0066"/>
<rect x="571.15" y="1234.8" width="15.5" height="3.4" fill="#FF0066"/>
<circle cx="578.9" cy="1226.3" r="6.1" fill="#FF0066"/>
<circle cx="578.9" cy="1230" r="6.1" fill="#FF0066"/>
<circle cx="578.9" cy="1244.6" r="6.1" fill="#FF0066"/>
<circle cx="578.9" cy="1261.6" r="6.1" fill="#FF0066"/>
<rect x="660.75" y="1199" width="2" height="56" fill="#FF0066"/>
<rect x="657.25" y="1198" width="9" height="2" fill="#FF0066"/>
<rect x="657.25" y="1254" width="9" height="2" fill="#FF0066"/>
<rect x="654" y="1225.8" width="15.5" height="3.4" fill="#FF0066"/>
<circle cx="661.75" cy="1189.5" r="6.1" fill="#FF0066"/>
<circle cx="661.75" cy="1211.3" r="6.1" fill="#FF0066"/>
<circle cx="661.75" cy="1227" r="6.1" fill="#FF0066"/>
<circle cx="659.95" cy="1255.5" r="6.1" fill="#FF0066"/>
<circle cx="663.55" cy="1256" r="6.1" fill="#FF0066"/>
<rect x="743.6" y="1203" width="2" height="9" fill="#FF0066"/>
<rect x="740.1" y="1202" width="9" height="2" fill="#FF0066"/>
<rect x="740.1" y="1211" width="9" height="2" fill="#FF0066"/>
<rect x="736.85" y="1205.3" width="15.5" height="3.4" fill="#FF0066"/>
<circle cx="744.6" cy="1201.8" r="6.1" fill="#FF0066"/>
<circle cx="744.6" cy="1206.5" r="6.1" fill="#FF0066"/>
<circle cx="744.6" cy="1216" r="6.1" fill="#FF0066"/>
<rect x="269.3" y="1250" width="2" height="35" fill="#117F7F"/>
<rect x="265.8" y="1249" width="9" height="2" fill="#117F7F"/>
<rect x="265.8" y="1284" width="9" height="2" fill="#117F7F"/>
<rect x="262.55" y="1265" width="15.5" height="3.4" fill="#117F7F"/>
<circle cx="270.3" cy="1240" r="6.1" fill="#117F7F"/>
<circle cx="270.3" cy="1247.4" r="6.1" fill="#117F7F"/>
<circle cx="270.3" cy="1252.5" r="6.1" fill="#117F7F"/>
<circle cx="270.3" cy="1257.6" r="6.1" fill="#117F7F"/>
<circle cx="270.3" cy="1288.2" r="6.1" fill="#117F7F"/>
<circle cx="270.3" cy="1290.5" r="6.1" fill="#117F7F"/>
<rect x="352.15" y="1147" width="2" height="66" fill="#117F7F"/>
<rect x="348.65" y="1146" width="9" height="2" fill="#117F7F"/>
<rect x="348.65" y="1212" width="9" height="2" fill="#117F7F"/>
<rect x="345.4" y="1178.2" width="15.5" height="3.4" fill="#117F7F"/>
<circle cx="353.15" cy="1117" r="6.1" fill="#117F7F"/>
<circle cx="353.15" cy="1155" r="6.1" fill="#117F7F"/>
<circle cx="353.15" cy="1190.7" r="6.1" fill="#117F7F"/>
<circle cx="353.15" cy="1194" r="6.1" fill="#117F7F"/>
<circle cx="353.15" cy="1207.7" r="6.1" fill="#117F7F"/>
<rect x="435" y="1168.8" width="2" height="47.2" fill="#117F7F"/>
<rect x="431.5" y="1167.8" width="9" height="2" fill="#117F7F"/>
<rect x="431.5" y="1215" width="9" height="2" fill="#117F7F"/>
<rect x="428.25" y="1191" width="15.5" height="3.4" fill="#117F7F"/>
<circle cx="436" cy="1150.5" r="6.1" fill="#117F7F"/>
<circle cx="436" cy="1178.2" r="6.1" fill="#117F7F"/>
<circle cx="436" cy="1182.2" r="6.1" fill="#117F7F"/>
<circle cx="436" cy="1199.8" r="6.1" fill="#117F7F"/>
<circle cx="436" cy="1212.8" r="6.1" fill="#117F7F"/>
<rect x="517.85" y="1114.2" width="2" height="68" fill="#117F7F"/>
<rect x="514.35" y="1113.2" width="9" height="2" fill="#117F7F"/>
<rect x="514.35" y="1181.2" width="9" height="2" fill="#117F7F"/>
<rect x="511.1" y="1145.9" width="15.5" height="3.4" fill="#117F7F"/>
<circle cx="518.85" cy="1098.6" r="6.1" fill="#117F7F"/>
<circle cx="520.55" cy="1119.8" r="6.1" fill="#117F7F"/>
<circle cx="517.15" cy="1130" r="6.1" fill="#117F7F"/>
<circle cx="520.55" cy="1151" r="6.1" fill="#117F7F"/>
<circle cx="517.15" cy="1157.8" r="6.1" fill="#117F7F"/>
<circle cx="520.55" cy="1187.3" r="6.1" fill="#117F7F"/>
<circle cx="517.15" cy="1190.1" r="6.1" fill="#117F7F"/>
<rect x="600.7" y="1194" width="2" height="39.5" fill="#117F7F"/>
<rect x="597.2" y="1193" width="9" height="2" fill="#117F7F"/>
<rect x="597.2" y="1232.5" width="9" height="2" fill="#117F7F"/>
<rect x="593.95" y="1211" width="15.5" height="3.4" fill="#117F7F"/>
<circle cx="601" cy="1186.8" r="6.1" fill="#117F7F"/>
<circle cx="605.1" cy="1189.5" r="6.1" fill="#117F7F"/>
<circle cx="601" cy="1207.9" r="6.1" fill="#117F7F"/>
<circle cx="603.7" cy="1211.3" r="6.1" fill="#117F7F"/>
<circle cx="601.7" cy="1225.6" r="6.1" fill="#117F7F"/>
<circle cx="601.7" cy="1243.9" r="6.1" fill="#117F7F"/>
<rect x="683.55" y="1131" width="2" height="60.6" fill="#117F7F"/>
<rect x="680.05" y="1130" width="9" height="2" fill="#117F7F"/>
<rect x="680.05" y="1190.6" width="9" height="2" fill="#117F7F"/>
<rect x="676.8" y="1153.3" width="15.5" height="3.4" fill="#117F7F"/>
<circle cx="684.55" cy="1131" r="6.1" fill="#117F7F"/>
<circle cx="684.55" cy="1140.5" r="6.1" fill="#117F7F"/>
<circle cx="684.55" cy="1150.7" r="6.1" fill="#117F7F"/>
<circle cx="684.55" cy="1158.2" r="6.1" fill="#117F7F"/>
<circle cx="684.55" cy="1164.4" r="6.1" fill="#117F7F"/>
<circle cx="684.55" cy="1225.6" r="6.1" fill="#117F7F"/>
<rect x="766.4" y="1200" width="2" height="22" fill="#117F7F"/>
<rect x="762.9" y="1199" width="9" height="2" fill="#117F7F"/>
<rect x="762.9" y="1221" width="9" height="2" fill="#117F7F"/>
<rect x="759.65" y="1208.8" width="15.5" height="3.4" fill="#117F7F"/>
<circle cx="767.4" cy="1197.7" r="6.1" fill="#117F7F"/>
<circle cx="767.4" cy="1208.6" r="6.1" fill="#117F7F"/>
<circle cx="767.4" cy="1226.9" r="6.1" fill="#117F7F"/>
<path d="M225.6 1038.8V1021H271.8V1160.8" fill="none" stroke="#000" stroke-width="3.4" stroke-linejoin="miter" stroke-linecap="butt"/>
<text x="249.1" y="1014.3" font-family="'DejaVu Sans', 'Liberation Sans', sans-serif" font-size="37.5" font-weight="bold" text-anchor="middle" letter-spacing="3.65" stroke="#000" stroke-width="0.8" stroke-linejoin="round">***</text>
<path d="M329.2 1042.4V1021H354V1042.4" fill="none" stroke="#000" stroke-width="3.4" stroke-linejoin="miter" stroke-linecap="butt"/>
<text x="342.3" y="1014.3" font-family="'DejaVu Sans', 'Liberation Sans', sans-serif" font-size="37.5" font-weight="bold" text-anchor="middle" letter-spacing="3.65" stroke="#000" stroke-width="0.8" stroke-linejoin="round">****</text>
<path d="M225 1124.7V1103H246.9V1162.3" fill="none" stroke="#000" stroke-width="3.4" stroke-linejoin="miter" stroke-linecap="butt"/>
<text x="237" y="1096.2" font-family="'DejaVu Sans', 'Liberation Sans', sans-serif" font-size="37.5" font-weight="bold" text-anchor="middle" letter-spacing="3.65" stroke="#000" stroke-width="0.8" stroke-linejoin="round">*</text>
<path d="M308.6 1125.6V1103.5H331V1164.6" fill="none" stroke="#000" stroke-width="3.4" stroke-linejoin="miter" stroke-linecap="butt"/>
<text x="320.6" y="1096.2" font-family="'DejaVu Sans', 'Liberation Sans', sans-serif" font-size="37.5" font-weight="bold" text-anchor="middle" letter-spacing="3.65" stroke="#000" stroke-width="0.8" stroke-linejoin="round">****</text>
<path d="M474.9 1112V1022.3H519.2V1047.8" fill="none" stroke="#000" stroke-width="3.4" stroke-linejoin="miter" stroke-linecap="butt"/>
<text x="497.8" y="1014.9" font-family="'DejaVu Sans', 'Liberation Sans', sans-serif" font-size="37.5" font-weight="bold" text-anchor="middle" letter-spacing="3.65" stroke="#000" stroke-width="0.8" stroke-linejoin="round">**</text>
<path d="M641.2 1111.6V1022.3H683V1045.7" fill="none" stroke="#000" stroke-width="3.4" stroke-linejoin="miter" stroke-linecap="butt"/>
<text x="662.8" y="1014.9" font-family="'DejaVu Sans', 'Liberation Sans', sans-serif" font-size="37.5" font-weight="bold" text-anchor="middle" letter-spacing="3.65" stroke="#000" stroke-width="0.8" stroke-linejoin="round">*</text>
<path d="M664.2 1144.6V1102.7H683.1V1118.8" fill="none" stroke="#000" stroke-width="3.4" stroke-linejoin="miter" stroke-linecap="butt"/>
<text x="674.3" y="1095.9" font-family="'DejaVu Sans', 'Liberation Sans', sans-serif" font-size="37.5" font-weight="bold" text-anchor="middle" letter-spacing="3.65" stroke="#000" stroke-width="0.8" stroke-linejoin="round">**</text>
<text x="244.45" y="1512.6" font-family="'Liberation Sans', Arial, sans-serif" font-size="20.5" font-weight="bold" text-anchor="middle" letter-spacing="0.3">T-cell</text>
<path d="M230 1523.6V1530H258.8V1523.6" fill="none" stroke="#000" stroke-width="1.8"/>
<text x="413.55" y="1512.6" font-family="'Liberation Sans', Arial, sans-serif" font-size="20.5" font-weight="bold" text-anchor="middle" letter-spacing="0.3">Pro-Inflammatory</text>
<path d="M329.2 1523.6V1530H497.8V1523.6" fill="none" stroke="#000" stroke-width="1.8"/>
<text x="702.65" y="1512.6" font-family="'Liberation Sans', Arial, sans-serif" font-size="20.5" font-weight="bold" text-anchor="middle" letter-spacing="0.3">Immunesuppression</text>
<path d="M661 1523.6V1530H746V1523.6" fill="none" stroke="#000" stroke-width="1.8"/>
<text x="538.35" y="1563" font-family="'Liberation Sans', Arial, sans-serif" font-size="20.5" font-weight="bold" text-anchor="middle" letter-spacing="0.3">Th1</text>
<path d="M497.4 1575.6V1580.5H580.2V1575.6" fill="none" stroke="#000" stroke-width="1.8"/>
<text x="661.05" y="1563" font-family="'Liberation Sans', Arial, sans-serif" font-size="20.5" font-weight="bold" text-anchor="middle" letter-spacing="0.3">Th2</text>
<path d="M647.6 1575.6V1580.5H675V1575.6" fill="none" stroke="#000" stroke-width="1.8"/>
<circle cx="890" cy="1040.2" r="6.1" fill="#000000"/>
<text x="932" y="1049.8" font-family="'Liberation Sans', Arial, sans-serif" font-size="32" font-weight="normal" text-anchor="start">Non-HD</text>
<circle cx="890" cy="1090.8" r="6.1" fill="#FF0066"/>
<text x="932" y="1100.9" font-family="'Liberation Sans', Arial, sans-serif" font-size="32" font-weight="normal" text-anchor="start">HD survivor</text>
<circle cx="890" cy="1141.6" r="6.1" fill="#117F7F"/>
<text x="932" y="1151.8" font-family="'Liberation Sans', Arial, sans-serif" font-size="32" font-weight="normal" text-anchor="start">HD fatalities</text>
<text x="1194" y="886.9" font-family="'Liberation Sans', Arial, sans-serif" font-size="68.8" font-weight="bold" text-anchor="start">D</text>
<text x="1575.8" y="964" font-family="'Liberation Sans', Arial, sans-serif" font-size="36.75" font-weight="bold" text-anchor="middle">IL-4 (Th2)</text>
<line x1="1396.8" y1="1205.1" x2="1763" y2="1205.1" stroke="#000" stroke-width="3.2" stroke-linecap="round" stroke-dasharray="0 11.44"/>
<rect x="1383.85" y="1012.25" width="3.5" height="385.55" fill="#000000"/>
<rect x="1369.2" y="1012.3" width="16.4" height="3.4" fill="#000000"/>
<text x="1364.6" y="1024.2" font-family="'Liberation Sans', Arial, sans-serif" font-size="28.5" font-weight="bold" text-anchor="end">10<tspan dx="4" dy="-8" font-size="19.5">4</tspan></text>
<rect x="1369.2" y="1107.9" width="16.4" height="3.4" fill="#000000"/>
<text x="1364.6" y="1119.8" font-family="'Liberation Sans', Arial, sans-serif" font-size="28.5" font-weight="bold" text-anchor="end">10<tspan dx="4" dy="-8" font-size="19.5">2</tspan></text>
<rect x="1369.2" y="1203.5" width="16.4" height="3.4" fill="#000000"/>
<text x="1364.6" y="1215.4" font-family="'Liberation Sans', Arial, sans-serif" font-size="28.5" font-weight="bold" text-anchor="end">10<tspan dx="4" dy="-8" font-size="19.5">0</tspan></text>
<rect x="1369.2" y="1299.1" width="16.4" height="3.4" fill="#000000"/>
<text x="1364.6" y="1311" font-family="'Liberation Sans', Arial, sans-serif" font-size="28.5" font-weight="bold" text-anchor="end">10<tspan dx="4" dy="-8" font-size="19.5">-2</tspan></text>
<text x="1364.6" y="1406.6" font-family="'Liberation Sans', Arial, sans-serif" font-size="28.5" font-weight="bold" text-anchor="end">10<tspan dx="4" dy="-8" font-size="19.5">-4</tspan></text>
<rect x="1369.2" y="1394.2" width="398.1" height="3.6" fill="#000000"/>
<rect x="1473.8" y="1396" width="3.4" height="16" fill="#000000"/>
<rect x="1674.2" y="1396" width="3.4" height="16" fill="#000000"/>
<text transform="translate(1484.5,1435) rotate(-45)" font-family="'Liberation Sans', Arial, sans-serif" font-size="26.8" font-weight="bold" text-anchor="end">Whole blood</text>
<text transform="translate(1684.9,1435) rotate(-45)" font-family="'Liberation Sans', Arial, sans-serif" font-size="26.8" font-weight="bold" text-anchor="end">PBMCs</text>
<text transform="translate(1298.2,1363.9) rotate(-90) scale(1.13,1)" font-family="'Liberation Sans', Arial, sans-serif" font-size="27" font-weight="bold">Fold induction <tspan dx="2.2">(</tspan><tspan dx="3.2">2</tspan></text>
<text transform="translate(1286.8,1111) rotate(-90)" font-family="'Liberation Sans', Arial, sans-serif" font-size="20.8" font-weight="bold">-ΔΔCt</text>
<text transform="translate(1298.2,1052.2) rotate(-90) scale(1.13,1)" font-family="'Liberation Sans', Arial, sans-serif" font-size="27" font-weight="bold">)</text>
<rect x="1420.4" y="1112.4" width="2.2" height="109.5" fill="#000000"/>
<rect x="1412.75" y="1111.3" width="17.5" height="2.2" fill="#000000"/>
<rect x="1412.75" y="1220.8" width="17.5" height="2.2" fill="#000000"/>
<rect x="1403.35" y="1165.3" width="36.3" height="3.6" fill="#000000"/>
<circle cx="1411" cy="1115.5" r="8" fill="#000000"/>
<circle cx="1432" cy="1117.2" r="8" fill="#000000"/>
<circle cx="1411" cy="1131.4" r="8" fill="#000000"/>
<circle cx="1432" cy="1134.2" r="8" fill="#000000"/>
<circle cx="1421.5" cy="1201.1" r="8" fill="#000000"/>
<circle cx="1411" cy="1236.8" r="8" fill="#000000"/>
<circle cx="1432" cy="1234" r="8" fill="#000000"/>
<rect x="1474.7" y="1129.3" width="2.2" height="51.4" fill="#FF0066"/>
<rect x="1466.95" y="1128.2" width="17.7" height="2.2" fill="#FF0066"/>
<rect x="1466.95" y="1179.6" width="17.7" height="2.2" fill="#FF0066"/>
<rect x="1457.95" y="1153.4" width="35.7" height="3.6" fill="#FF0066"/>
<circle cx="1465.4" cy="1129.5" r="8" fill="#FF0066"/>
<circle cx="1486.4" cy="1130.2" r="8" fill="#FF0066"/>
<circle cx="1465.4" cy="1162" r="8" fill="#FF0066"/>
<circle cx="1486.4" cy="1164.8" r="8" fill="#FF0066"/>
<circle cx="1475.8" cy="1189.8" r="8" fill="#FF0066"/>
<rect x="1529.5" y="1126.3" width="2.2" height="111.1" fill="#117F7F"/>
<rect x="1521.65" y="1125.2" width="17.9" height="2.2" fill="#117F7F"/>
<rect x="1521.65" y="1236.3" width="17.9" height="2.2" fill="#117F7F"/>
<rect x="1512.25" y="1180" width="36.5" height="3.6" fill="#117F7F"/>
<circle cx="1530.6" cy="1117.2" r="8" fill="#117F7F"/>
<circle cx="1530.6" cy="1155.2" r="8" fill="#117F7F"/>
<circle cx="1530.6" cy="1213.6" r="8" fill="#117F7F"/>
<circle cx="1530.6" cy="1240.8" r="8" fill="#117F7F"/>
<rect x="1619.9" y="1232.9" width="2.2" height="43.3" fill="#000000"/>
<rect x="1612" y="1231.8" width="18" height="2.2" fill="#000000"/>
<rect x="1612" y="1275.1" width="18" height="2.2" fill="#000000"/>
<rect x="1603" y="1252.2" width="36" height="3.6" fill="#000000"/>
<circle cx="1621" cy="1223.1" r="8" fill="#000000"/>
<circle cx="1610.4" cy="1250.7" r="8" fill="#000000"/>
<circle cx="1632" cy="1254.9" r="8" fill="#000000"/>
<circle cx="1621" cy="1260.1" r="8" fill="#000000"/>
<circle cx="1621" cy="1283.9" r="8" fill="#000000"/>
<rect x="1728.9" y="1243.1" width="2.2" height="39" fill="#117F7F"/>
<rect x="1721.15" y="1242" width="17.7" height="2.2" fill="#117F7F"/>
<rect x="1721.15" y="1281" width="17.7" height="2.2" fill="#117F7F"/>
<rect x="1712.2" y="1260.8" width="36" height="3.6" fill="#117F7F"/>
<circle cx="1730" cy="1234.8" r="8" fill="#117F7F"/>
<circle cx="1730" cy="1267.1" r="8" fill="#117F7F"/>
<circle cx="1740.8" cy="1267.7" r="8" fill="#117F7F"/>
<circle cx="1719.5" cy="1280.7" r="8" fill="#117F7F"/>
<circle cx="1874.1" cy="1039.9" r="7.9" fill="#000000"/>
<text x="1916.7" y="1049.8" font-family="'Liberation Sans', Arial, sans-serif" font-size="32" font-weight="normal" text-anchor="start">Non-HD</text>
<circle cx="1874.1" cy="1090.8" r="7.9" fill="#FF0066"/>
<text x="1916.7" y="1100.7" font-family="'Liberation Sans', Arial, sans-serif" font-size="32" font-weight="normal" text-anchor="start">HD survivor</text>
<circle cx="1874.1" cy="1141.7" r="7.9" fill="#117F7F"/>
<text x="1916.7" y="1151.4" font-family="'Liberation Sans', Arial, sans-serif" font-size="32" font-weight="normal" text-anchor="start">HD fatalities</text>
<text x="3.5" y="1831.9" font-family="'Liberation Sans', Arial, sans-serif" font-size="68.8" font-weight="bold" text-anchor="start">E</text>
<text x="495.7" y="1859.3" font-family="'Liberation Sans', Arial, sans-serif" font-size="36.75" font-weight="bold" text-anchor="middle">PBMCs EEHV1B-HD fatality</text>
<line x1="221.3" y1="2100.7" x2="771" y2="2100.7" stroke="#000" stroke-width="3.2" stroke-linecap="round" stroke-dasharray="0 11.45"/>
<rect x="208.05" y="1908.25" width="3.5" height="385.65" fill="#000000"/>
<rect x="194.5" y="1908.3" width="15.3" height="3.4" fill="#000000"/>
<text x="189.3" y="1920.2" font-family="'Liberation Sans', Arial, sans-serif" font-size="28.5" font-weight="bold" text-anchor="end">10<tspan dx="4" dy="-8" font-size="19.5">4</tspan></text>
<rect x="194.5" y="2003.66" width="15.3" height="3.4" fill="#000000"/>
<text x="189.3" y="2015.56" font-family="'Liberation Sans', Arial, sans-serif" font-size="28.5" font-weight="bold" text-anchor="end">10<tspan dx="4" dy="-8" font-size="19.5">2</tspan></text>
<rect x="194.5" y="2099.02" width="15.3" height="3.4" fill="#000000"/>
<text x="189.3" y="2110.92" font-family="'Liberation Sans', Arial, sans-serif" font-size="28.5" font-weight="bold" text-anchor="end">10<tspan dx="4" dy="-8" font-size="19.5">0</tspan></text>
<rect x="194.5" y="2194.38" width="15.3" height="3.4" fill="#000000"/>
<text x="189.3" y="2206.28" font-family="'Liberation Sans', Arial, sans-serif" font-size="28.5" font-weight="bold" text-anchor="end">10<tspan dx="4" dy="-8" font-size="19.5">-2</tspan></text>
<text x="189.3" y="2301.64" font-family="'Liberation Sans', Arial, sans-serif" font-size="28.5" font-weight="bold" text-anchor="end">10<tspan dx="4" dy="-8" font-size="19.5">-4</tspan></text>
<rect x="194.5" y="2290.1" width="589" height="3.8" fill="#000000"/>
<rect x="239.2" y="2292" width="3.4" height="16" fill="#000000"/>
<rect x="311.93" y="2292" width="3.4" height="16" fill="#000000"/>
<rect x="384.66" y="2292" width="3.4" height="16" fill="#000000"/>
<rect x="457.39" y="2292" width="3.4" height="16" fill="#000000"/>
<rect x="530.12" y="2292" width="3.4" height="16" fill="#000000"/>
<rect x="602.85" y="2292" width="3.4" height="16" fill="#000000"/>
<rect x="675.58" y="2292" width="3.4" height="16" fill="#000000"/>
<rect x="748.31" y="2292" width="3.4" height="16" fill="#000000"/>
<text transform="translate(250,2331) rotate(-45)" font-family="'Liberation Sans', Arial, sans-serif" font-size="26.8" font-weight="bold" text-anchor="end">IL-2</text>
<text transform="translate(322.73,2331) rotate(-45)" font-family="'Liberation Sans', Arial, sans-serif" font-size="26.8" font-weight="bold" text-anchor="end">IL-6</text>
<text transform="translate(395.46,2331) rotate(-45)" font-family="'Liberation Sans', Arial, sans-serif" font-size="26.8" font-weight="bold" text-anchor="end">TNF-α</text>
<text transform="translate(468.19,2331) rotate(-45)" font-family="'Liberation Sans', Arial, sans-serif" font-size="26.8" font-weight="bold" text-anchor="end">IFN-γ</text>
<text transform="translate(540.92,2331) rotate(-45)" font-family="'Liberation Sans', Arial, sans-serif" font-size="26.8" font-weight="bold" text-anchor="end">IL-12</text>
<text transform="translate(613.65,2331) rotate(-45)" font-family="'Liberation Sans', Arial, sans-serif" font-size="26.8" font-weight="bold" text-anchor="end">IL-4</text>
<text transform="translate(686.38,2331) rotate(-45)" font-family="'Liberation Sans', Arial, sans-serif" font-size="26.8" font-weight="bold" text-anchor="end">IL-10</text>
<text transform="translate(759.11,2331) rotate(-45)" font-family="'Liberation Sans', Arial, sans-serif" font-size="26.8" font-weight="bold" text-anchor="end">TGF-β</text>
<text transform="translate(122.3,2259.8) rotate(-90) scale(1.13,1)" font-family="'Liberation Sans', Arial, sans-serif" font-size="27" font-weight="bold">Fold induction <tspan dx="2.2">(</tspan><tspan dx="3.2">2</tspan></text>
<text transform="translate(110.9,2006.9) rotate(-90)" font-family="'Liberation Sans', Arial, sans-serif" font-size="20.8" font-weight="bold">-ΔΔCt</text>
<text transform="translate(122.3,1948.1) rotate(-90) scale(1.13,1)" font-family="'Liberation Sans', Arial, sans-serif" font-size="27" font-weight="bold">)</text>
<rect x="226.6" y="2047.5" width="2.2" height="102" fill="#000000"/>
<rect x="223.45" y="2046.4" width="8.5" height="2.2" fill="#000000"/>
<rect x="223.45" y="2148.4" width="8.5" height="2.2" fill="#000000"/>
<rect x="218.95" y="2097.2" width="17.5" height="3.6" fill="#000000"/>
<circle cx="227.7" cy="2062.4" r="8" fill="#000000"/>
<circle cx="227.7" cy="2134.7" r="8" fill="#000000"/>
<rect x="245.95" y="2181.7" width="17.5" height="3.6" fill="#000000"/>
<path d="M254.7 2170.4L264.9 2180.6L254.7 2190.8L244.5 2180.6Z" fill="#A00000"/>
<path d="M254.7 2176.4L264.9 2186.6L254.7 2196.8L244.5 2186.6Z" fill="#A00000"/>
<rect x="299.33" y="2057.9" width="2.2" height="66.6" fill="#000000"/>
<rect x="296.18" y="2056.8" width="8.5" height="2.2" fill="#000000"/>
<rect x="296.18" y="2123.4" width="8.5" height="2.2" fill="#000000"/>
<rect x="291.68" y="2089.6" width="17.5" height="3.6" fill="#000000"/>
<circle cx="300.43" cy="2067.9" r="8" fill="#000000"/>
<circle cx="300.43" cy="2115.2" r="8" fill="#000000"/>
<rect x="318.68" y="2109.1" width="17.5" height="3.6" fill="#000000"/>
<path d="M327.43 2091.4L337.63 2101.6L327.43 2111.8L317.23 2101.6Z" fill="#A00000"/>
<path d="M327.43 2109.2L337.63 2119.4L327.43 2129.6L317.23 2119.4Z" fill="#A00000"/>
<rect x="372.06" y="2096" width="2.2" height="28" fill="#000000"/>
<rect x="368.91" y="2094.9" width="8.5" height="2.2" fill="#000000"/>
<rect x="368.91" y="2122.9" width="8.5" height="2.2" fill="#000000"/>
<rect x="364.41" y="2108.2" width="17.5" height="3.6" fill="#000000"/>
<circle cx="373.16" cy="2094.4" r="8" fill="#000000"/>
<circle cx="373.16" cy="2126.2" r="8" fill="#000000"/>
<rect x="391.41" y="2107.8" width="17.5" height="3.6" fill="#000000"/>
<path d="M400.16 2097.3L410.36 2107.5L400.16 2117.7L389.96 2107.5Z" fill="#A00000"/>
<path d="M400.16 2101.6L410.36 2111.8L400.16 2122L389.96 2111.8Z" fill="#A00000"/>
<rect x="444.79" y="2072" width="2.2" height="14" fill="#000000"/>
<rect x="441.64" y="2070.9" width="8.5" height="2.2" fill="#000000"/>
<rect x="441.64" y="2084.9" width="8.5" height="2.2" fill="#000000"/>
<rect x="437.14" y="2076.8" width="17.5" height="3.6" fill="#000000"/>
<circle cx="445.89" cy="2070.1" r="8" fill="#000000"/>
<circle cx="445.89" cy="2088" r="8" fill="#000000"/>
<rect x="464.14" y="2048.7" width="17.5" height="3.6" fill="#000000"/>
<path d="M472.89 2036.1L483.09 2046.3L472.89 2056.5L462.69 2046.3Z" fill="#A00000"/>
<path d="M472.89 2045.4L483.09 2055.6L472.89 2065.8L462.69 2055.6Z" fill="#A00000"/>
<rect x="517.52" y="2079" width="2.2" height="20" fill="#000000"/>
<rect x="514.37" y="2077.9" width="8.5" height="2.2" fill="#000000"/>
<rect x="514.37" y="2097.9" width="8.5" height="2.2" fill="#000000"/>
<rect x="509.87" y="2087.5" width="17.5" height="3.6" fill="#000000"/>
<circle cx="518.62" cy="2076.9" r="8" fill="#000000"/>
<circle cx="518.62" cy="2101.6" r="8" fill="#000000"/>
<rect x="536.87" y="2115.6" width="17.5" height="3.6" fill="#000000"/>
<path d="M545.62 2103.3L555.82 2113.5L545.62 2123.7L535.42 2113.5Z" fill="#A00000"/>
<path d="M545.62 2110.4L555.82 2120.6L545.62 2130.8L535.42 2120.6Z" fill="#A00000"/>
<rect x="590.25" y="2106.7" width="2.2" height="85.9" fill="#000000"/>
<rect x="587.1" y="2105.6" width="8.5" height="2.2" fill="#000000"/>
<rect x="587.1" y="2191.5" width="8.5" height="2.2" fill="#000000"/>
<rect x="582.6" y="2148.2" width="17.5" height="3.6" fill="#000000"/>
<circle cx="591.35" cy="2119.1" r="8" fill="#000000"/>
<circle cx="591.35" cy="2180.1" r="8" fill="#000000"/>
<rect x="609.6" y="2161.3" width="17.5" height="3.6" fill="#000000"/>
<path d="M618.35 2152.9L628.55 2163.1L618.35 2173.3L608.15 2163.1Z" fill="#A00000"/>
<rect x="662.98" y="2109" width="2.2" height="12" fill="#000000"/>
<rect x="659.83" y="2107.9" width="8.5" height="2.2" fill="#000000"/>
<rect x="659.83" y="2119.9" width="8.5" height="2.2" fill="#000000"/>
<rect x="655.33" y="2113.4" width="17.5" height="3.6" fill="#000000"/>
<circle cx="664.08" cy="2107.5" r="8" fill="#000000"/>
<circle cx="664.08" cy="2123.3" r="8" fill="#000000"/>
<rect x="682.33" y="2041.1" width="17.5" height="3.6" fill="#000000"/>
<path d="M691.08 2025.9L701.28 2036.1L691.08 2046.3L680.88 2036.1Z" fill="#A00000"/>
<path d="M691.08 2040.3L701.28 2050.5L691.08 2060.7L680.88 2050.5Z" fill="#A00000"/>
<rect x="735.71" y="2094" width="2.2" height="8" fill="#000000"/>
<rect x="732.56" y="2092.9" width="8.5" height="2.2" fill="#000000"/>
<rect x="732.56" y="2100.9" width="8.5" height="2.2" fill="#000000"/>
<rect x="728.06" y="2096.2" width="17.5" height="3.6" fill="#000000"/>
<circle cx="736.81" cy="2092.2" r="8" fill="#000000"/>
<circle cx="736.81" cy="2099" r="8" fill="#000000"/>
<circle cx="736.81" cy="2103.3" r="8" fill="#000000"/>
<rect x="755.06" y="2103.6" width="17.5" height="3.6" fill="#000000"/>
<path d="M763.81 2092.2L774.01 2102.4L763.81 2112.6L753.61 2102.4Z" fill="#A00000"/>
<path d="M763.81 2098.2L774.01 2108.4L763.81 2118.6L753.61 2108.4Z" fill="#A00000"/>
<path d="M228.1 2024.5V1989H254.8V2156.8" fill="none" stroke="#000" stroke-width="3.4" stroke-linejoin="miter" stroke-linecap="butt"/>
<text x="242.4" y="1981.2" font-family="'DejaVu Sans', 'Liberation Sans', sans-serif" font-size="37.5" font-weight="bold" text-anchor="middle" letter-spacing="3.65" stroke="#000" stroke-width="0.8" stroke-linejoin="round">**</text>
<path d="M663.8 2082V1988.8H690.9V2010.6" fill="none" stroke="#000" stroke-width="3.4" stroke-linejoin="miter" stroke-linecap="butt"/>
<text x="678.8" y="1980.7" font-family="'DejaVu Sans', 'Liberation Sans', sans-serif" font-size="37.5" font-weight="bold" text-anchor="middle" letter-spacing="3.65" stroke="#000" stroke-width="0.8" stroke-linejoin="round">*</text>
<text x="240.65" y="2408.8" font-family="'Liberation Sans', Arial, sans-serif" font-size="20.5" font-weight="bold" text-anchor="middle" letter-spacing="0.3">T-cell</text>
<path d="M226.3 2420.3V2426.3H254.8V2420.3" fill="none" stroke="#000" stroke-width="1.8"/>
<text x="387.55" y="2408.8" font-family="'Liberation Sans', Arial, sans-serif" font-size="20.5" font-weight="bold" text-anchor="middle" letter-spacing="0.3">Pro-Inflammatory</text>
<path d="M302.4 2420.3V2426.3H474V2420.3" fill="none" stroke="#000" stroke-width="1.8"/>
<text x="713.05" y="2408.8" font-family="'Liberation Sans', Arial, sans-serif" font-size="20.5" font-weight="bold" text-anchor="middle" letter-spacing="0.3">Immunesuppression</text>
<path d="M662.4 2420.3V2426.3H763.3V2420.3" fill="none" stroke="#000" stroke-width="1.8"/>
<text x="496.55" y="2459.5" font-family="'Liberation Sans', Arial, sans-serif" font-size="20.5" font-weight="bold" text-anchor="middle" letter-spacing="0.3">Th1</text>
<path d="M442.5 2471.6V2477H551.8V2471.6" fill="none" stroke="#000" stroke-width="1.8"/>
<text x="641.35" y="2459.5" font-family="'Liberation Sans', Arial, sans-serif" font-size="20.5" font-weight="bold" text-anchor="middle" letter-spacing="0.3">Th2</text>
<path d="M590.5 2471.6V2477H692.6V2471.6" fill="none" stroke="#000" stroke-width="1.8"/>
<circle cx="889.9" cy="1935.8" r="8.1" fill="#000000"/>
<text x="932.6" y="1946" font-family="'Liberation Sans', Arial, sans-serif" font-size="32" font-weight="normal" text-anchor="start">Non-HD</text>
<path d="M890 1976.9L899.9 1986.8L890 1996.7L880.1 1986.8Z" fill="#A00000"/>
<text x="932.6" y="1997.1" font-family="'Liberation Sans', Arial, sans-serif" font-size="32" font-weight="normal" text-anchor="start">HD</text>
</svg></body></html>
